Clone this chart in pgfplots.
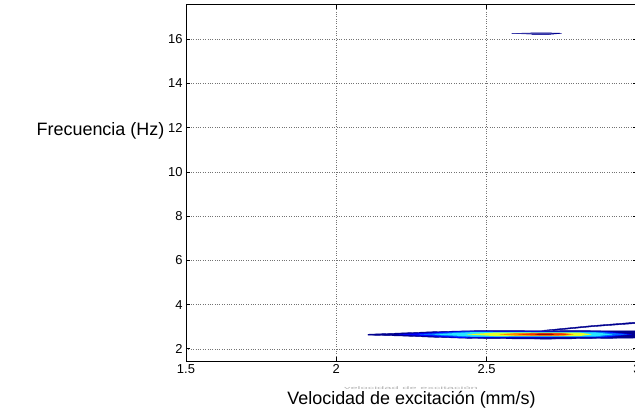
\documentclass[border=0pt]{standalone}
\usepackage{fontspec}
\setmainfont{Liberation Sans}
\usepackage{pgfplots}
\pgfplotsset{compat=1.18}

% jet colour levels, outermost to innermost
\definecolor{lev1}{RGB}{0,0,143}
\definecolor{lev2}{RGB}{0,0,255}
\definecolor{lev3}{RGB}{0,110,255}
\definecolor{lev4}{RGB}{40,230,255}
\definecolor{lev5}{RGB}{230,255,40}
\definecolor{lev6}{RGB}{255,140,0}
\definecolor{lev7}{RGB}{240,50,0}
\definecolor{lev8}{RGB}{170,0,0}

\begin{document}
\begin{tikzpicture}
\path[use as bounding box] (-186bp,-53bp) rectangle (449bp,361bp);
\begin{axis}[
  at={(0,0)}, anchor=south west,
  scale only axis, width=451bp, height=356bp,
  xmin=1.5, xmax=3, ymin=1.45, ymax=17.55,
  xtick={1.5,2,2.5,3}, ytick={2,4,6,8,10,12,14,16},
  xticklabels={1.5,2,2.5,3},
  grid=major,
  major grid style={dotted, black!55, line width=0.6pt},
  axis line style={line width=1pt},
  tick style={black, line width=0.8pt},
  major tick length=4bp,
  /pgf/number format/assume math mode=true,
  ticklabel style={font=\fontsize{13}{15}\selectfont},
]
% outer level (navy)
\addplot[fill=lev1, draw=lev1, line width=0.4pt] coordinates {
  (2.105,2.66) (2.22,2.72) (2.33,2.78) (2.45,2.82) (2.70,2.83) (3.0,2.81)
  (3.0,2.49) (2.70,2.44) (2.45,2.47) (2.33,2.52) (2.22,2.58) (2.105,2.62)};
% thin upper branch
\addplot[fill=lev1, draw=lev1, line width=0.4pt] coordinates {
  (2.69,2.84) (2.85,3.05) (3.0,3.21) (3.0,3.15) (2.85,3.00) (2.72,2.83)};
\addplot[fill=lev2, draw=none] coordinates {
  (2.20,2.655) (2.40,2.79) (2.90,2.78) (2.985,2.655) (2.90,2.52) (2.40,2.50)};
\addplot[fill=lev3, draw=none] coordinates {
  (2.27,2.655) (2.42,2.775) (2.88,2.765) (2.97,2.655) (2.88,2.545) (2.42,2.535)};
\addplot[fill=lev4, draw=none] coordinates {
  (2.32,2.655) (2.45,2.755) (2.86,2.745) (2.92,2.655) (2.86,2.565) (2.45,2.555)};
\addplot[fill=lev5, draw=none] coordinates {
  (2.43,2.655) (2.53,2.735) (2.81,2.73) (2.85,2.655) (2.81,2.58) (2.53,2.575)};
\addplot[fill=lev6, draw=none] coordinates {
  (2.54,2.655) (2.60,2.715) (2.76,2.71) (2.79,2.655) (2.76,2.60) (2.60,2.595)};
\addplot[fill=lev7, draw=none] coordinates {
  (2.60,2.655) (2.65,2.70) (2.75,2.695) (2.775,2.655) (2.75,2.615) (2.65,2.61)};
\addplot[fill=lev8, draw=none] coordinates {
  (2.66,2.655) (2.675,2.69) (2.715,2.69) (2.725,2.655) (2.715,2.62) (2.675,2.62)};
% small island near 16 Hz
\addplot[fill=lev1!70, draw=lev1, line width=0.5pt] coordinates {
  (2.583,16.26) (2.65,16.285) (2.70,16.29) (2.749,16.27)
  (2.70,16.21) (2.65,16.215)};
\end{axis}
\node[font=\fontsize{18}{20}\selectfont] at (-85.5bp,230bp) {Frecuencia (Hz)};
\node[font=\fontsize{18}{20}\selectfont] at (225.5bp,-39bp) {Velocidad de excitación (mm/s)};
\node[text=black!30, font=\fontsize{13}{14}\selectfont, yscale=0.3] at (225bp,-27bp) {velocidad de excitación};
\end{tikzpicture}
\end{document}
